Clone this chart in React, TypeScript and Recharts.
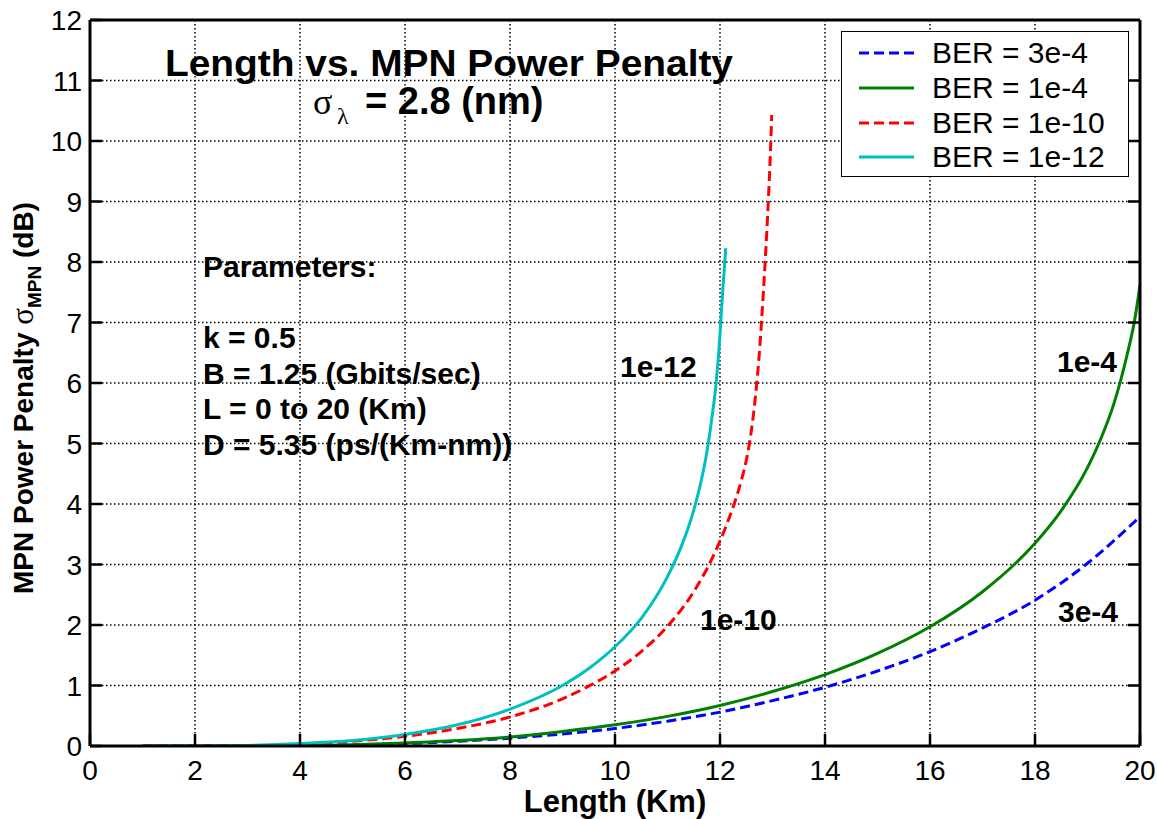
import React from "react";
import { LineChart, Line, XAxis, YAxis, CartesianGrid, Legend } from "recharts";

const lengthTicks = [0, 2, 4, 6, 8, 10, 12, 14, 16, 18, 20];
const penaltyTicks = [0, 1, 2, 3, 4, 5, 6, 7, 8, 9, 10, 11, 12];

// BER = 3e-4
const len3e4 = [1, 4, 5, 6, 7, 8, 9, 10, 11, 12, 13, 14, 15, 16, 17, 18, 19, 20];
const pen3e4 = [0, 0.01, 0.02, 0.04, 0.08, 0.13, 0.2, 0.29, 0.41, 0.56, 0.75, 0.97, 1.24, 1.56, 1.95, 2.41, 3.02, 3.79];

// BER = 1e-4
const len1e4 = [1, 3.5, 5, 6, 7, 8, 9, 10, 11, 12, 13, 14, 15, 16, 17, 18, 18.5, 19, 19.25, 19.5, 19.75, 19.9, 20];
const pen1e4 = [0, 0, 0.02, 0.05, 0.09, 0.15, 0.24, 0.35, 0.49, 0.67, 0.9, 1.18, 1.53, 1.97, 2.55, 3.35, 3.89, 4.6, 5.07, 5.65, 6.45, 7.05, 7.62];

// BER = 1e-10
const len1e10 = [1, 3.5, 4, 5, 6, 7, 8, 9, 9.5, 10, 10.5, 11, 11.5, 11.85, 12.1, 12.25, 12.41, 12.5, 12.57, 12.64, 12.7, 12.75, 12.79, 12.86, 12.92, 12.96, 12.985];
const pen1e10 = [0, 0, 0.03, 0.08, 0.16, 0.29, 0.48, 0.78, 0.99, 1.24, 1.56, 1.98, 2.55, 3.1, 3.6, 3.95, 4.4, 4.72, 5.05, 5.5, 6.0, 6.5, 7.0, 8.0, 9.0, 9.8, 10.43];

// BER = 1e-12
const len1e12 = [1, 2, 3, 4, 5, 6, 7, 8, 9, 9.5, 10, 10.5, 11, 11.25, 11.5, 11.62, 11.75, 11.85, 11.92, 12.0, 12.05, 12.11];
const pen1e12 = [0, 0, 0.01, 0.04, 0.09, 0.19, 0.35, 0.61, 1.0, 1.28, 1.64, 2.11, 2.8, 3.27, 3.9, 4.3, 4.86, 5.45, 5.95, 6.8, 7.5, 8.23];

const zip = (xs: number[], ys: number[]) => xs.map((x, i) => ({ length: x, penalty: ys[i] }));

const series = [
  { name: "BER = 3e-4", data: zip(len3e4, pen3e4), color: "#0000ff", dash: "10 5" },
  { name: "BER = 1e-4", data: zip(len1e4, pen1e4), color: "#008000", dash: undefined },
  { name: "BER = 1e-10", data: zip(len1e10, pen1e10), color: "#ff0000", dash: "10 5" },
  { name: "BER = 1e-12", data: zip(len1e12, pen1e12), color: "#00bfbf", dash: undefined },
];

const FONT = "'Liberation Sans', Arial, Helvetica, sans-serif";
const SERIF = "'Liberation Serif', 'Times New Roman', serif";
const TICK = 12;

// tick renderers: label + inward tick mark (MATLAB style)
const BottomTick = (p: any) => {
  const axisY = p.y - 12;
  return (
    <g>
      <line x1={p.x} y1={axisY} x2={p.x} y2={axisY - TICK} stroke="#000" strokeWidth={2.5} />
      <text x={p.x} y={axisY + 34} textAnchor="middle" fontSize={28} fontFamily={FONT} fill="#000">
        {p.payload.value}
      </text>
    </g>
  );
};
const LeftTick = (p: any) => {
  const axisX = p.x + 8;
  return (
    <g>
      <line x1={axisX} y1={p.y} x2={axisX + TICK} y2={p.y} stroke="#000" strokeWidth={2.5} />
      <text x={p.x} y={p.y + 10} textAnchor="end" fontSize={28} fontFamily={FONT} fill="#000">
        {p.payload.value}
      </text>
    </g>
  );
};
const TopTick = (p: any) => (
  <line x1={p.x} y1={p.y} x2={p.x} y2={p.y + TICK} stroke="#000" strokeWidth={2.5} />
);
const RightTick = (p: any) => (
  <line x1={p.x} y1={p.y} x2={p.x - TICK} y2={p.y} stroke="#000" strokeWidth={2.5} />
);

const LegendBox = () => (
  <div
    style={{
      width: 288,
      height: 146,
      background: "#fff",
      border: "1px solid #000",
      fontFamily: FONT,
      fontSize: 30,
      paddingTop: 4,
      boxSizing: "border-box",
    }}
  >
    {series.map((s) => (
      <div key={s.name} style={{ height: 34.7, display: "flex", alignItems: "center" }}>
        <svg width={90} height={10} style={{ flex: "none" }}>
          <line x1={17} y1={5} x2={72} y2={5} stroke={s.color} strokeWidth={3} strokeDasharray={s.dash} />
        </svg>
        <span style={{ lineHeight: 1 }}>{s.name}</span>
      </div>
    ))}
  </div>
);

export default function App() {
  const frame = { stroke: "#000", strokeWidth: 3 };
  return (
    <div style={{ position: "absolute", left: 0, top: 0, width: 1157, height: 819, background: "#fff" }}>
      <LineChart
        width={1157}
        height={819}
        margin={{ top: 19, right: 16, bottom: 33, left: 30 }}
        style={{ fontFamily: FONT }}
      >
        <CartesianGrid stroke="#000" strokeWidth={1.5} strokeDasharray="1.5 2.5" />
        <XAxis
          dataKey="length"
          type="number"
          domain={[0, 20]}
          ticks={lengthTicks}
          allowDataOverflow
          height={40}
          axisLine={frame}
          tickLine={false}
          tickSize={0}
          tickMargin={12}
          tick={BottomTick}
        />
        <XAxis
          xAxisId="top"
          orientation="top"
          type="number"
          domain={[0, 20]}
          ticks={lengthTicks.slice(1, -1)}
          allowDataOverflow
          height={1}
          axisLine={frame}
          tickLine={false}
          tickSize={0}
          tickMargin={0}
          tick={TopTick}
        />
        <YAxis
          type="number"
          domain={[0, 12]}
          ticks={penaltyTicks}
          allowDataOverflow
          width={60}
          axisLine={frame}
          tickLine={false}
          tickSize={0}
          tickMargin={8}
          tick={LeftTick}
        />
        <YAxis
          yAxisId="right"
          orientation="right"
          type="number"
          domain={[0, 12]}
          ticks={penaltyTicks.slice(1, -1)}
          allowDataOverflow
          width={1}
          axisLine={frame}
          tickLine={false}
          tickSize={0}
          tickMargin={0}
          tick={RightTick}
        />
        {series.map((s) => (
          <Line
            key={s.name}
            data={s.data}
            dataKey="penalty"
            name={s.name}
            type="monotone"
            stroke={s.color}
            strokeWidth={3}
            strokeDasharray={s.dash}
            dot={false}
            activeDot={false}
            isAnimationActive={false}
          />
        ))}
        <Legend
          layout="vertical"
          align="center"
          verticalAlign="middle"
          wrapperStyle={{ position: "absolute", left: 841, top: 31, width: 288, height: 146 }}
          content={() => <LegendBox />}
        />
      </LineChart>
      <svg
        width={1157}
        height={819}
        style={{ position: "absolute", left: 0, top: 0, pointerEvents: "none" }}
        fontFamily={FONT}
      >
        <text x={165} y={76} fontSize={36} fontWeight="bold" textLength={568} lengthAdjust="spacingAndGlyphs">
          Length vs. MPN Power Penalty
        </text>
        <text x={313} y={114} fontSize={36} fontFamily={SERIF}>σ</text>
        <text x={337} y={124} fontSize={24} fontFamily={SERIF}>λ</text>
        <text x={365} y={114} fontSize={38} fontWeight="bold">= 2.8 (nm)</text>
        <g fontSize={30} fontWeight="bold">
          <text x={203} y={277}>Parameters:</text>
          <text x={203} y={348}>k = 0.5</text>
          <text x={203} y={384}>B = 1.25 (Gbits/sec)</text>
          <text x={203} y={419}>L = 0 to 20 (Km)</text>
          <text x={203} y={455}>D = 5.35 (ps/(Km-nm))</text>
        </g>
        <g fontSize={30} fontWeight="bold">
          <text x={620} y={377}>1e-12</text>
          <text x={1057} y={372}>1e-4</text>
          <text x={700} y={630}>1e-10</text>
          <text x={1058} y={622}>3e-4</text>
        </g>
        <text x={615} y={812} fontSize={31} fontWeight="bold" textAnchor="middle">
          Length (Km)
        </text>
        <text x={33} y={398} fontSize={28} fontWeight="bold" textAnchor="middle" transform="rotate(-90 33 398)">
          MPN Power Penalty{" "}
          <tspan fontFamily={SERIF} fontWeight="normal" fontSize={31}>σ</tspan>
          <tspan fontSize={19} dy={8}>MPN</tspan>
          <tspan dy={-8}> (dB)</tspan>
        </text>
      </svg>
    </div>
  );
}
